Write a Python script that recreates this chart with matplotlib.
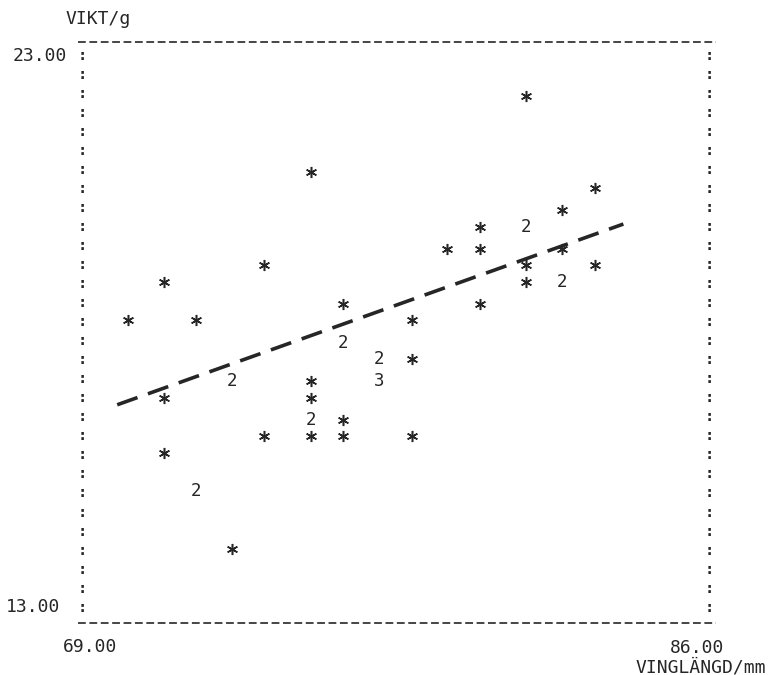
import numpy as np
import matplotlib
matplotlib.use("Agg")
import matplotlib.pyplot as plt
import matplotlib.transforms as mtransforms

plt.rcParams['lines.scale_dashes'] = False

# ---- data (wing length mm, weight g, count of coinciding birds)
wing = [81.1, 75.1, 83.0, 82.1, 79.8, 81.1, 78.9, 79.8, 82.1, 73.8, 71.0,
        81.1, 83.0, 81.1, 82.1, 76.0, 79.8, 70.0, 71.9, 77.9, 76.0, 77.0,
        77.9, 72.9, 75.1, 77.0, 71.0, 75.1, 75.1, 76.0, 73.8, 75.1, 76.0,
        77.9, 71.0, 71.9, 72.9]
weight = [22.27, 20.9, 20.6, 20.2, 19.9, 19.9, 19.5, 19.5, 19.5, 19.2, 18.9,
          19.2, 19.2, 18.9, 18.9, 18.5, 18.5, 18.2, 18.2, 18.2, 17.8, 17.5,
          17.5, 17.1, 17.1, 17.1, 16.8, 16.8, 16.4, 16.4, 16.1, 16.1, 16.1,
          16.1, 15.8, 15.1, 14.05]
count = [1, 1, 1, 1, 1, 2, 1, 1, 1, 1, 1, 1, 1, 1, 2, 1, 1, 1, 1, 1, 2, 2, 1,
         2, 1, 3, 1, 1, 2, 1, 1, 1, 1, 1, 1, 2, 1]

# regression line as drawn
fit_x = [69.7, 83.8]
fit_y = [16.67, 19.95]

x_min, x_max = 69.0, 86.0
y_min, y_max = 13.0, 23.0
n_rows = 30

x_labels = ["69.00", "86.00"]
y_labels = ["23.00", "13.00"]
x_title = "VINGLÄNGD/mm"
y_title = "VIKT/g"

ink = "#262626"
mono = "DejaVu Sans Mono"
fs = 13

fig = plt.figure(figsize=(7.72, 6.75), dpi=100)
ax = fig.add_axes([0, 0, 1, 1])
ax.set_xlim(66.435, 87.94)
ax.set_ylim(11.766, 24.016)
ax.axis('off')

# frame: dashed top/bottom rows, colon columns left/right
bx0, bx1 = 68.72, 86.18
ax.plot([68.6, 86.38], [23.255, 23.255], color=ink, lw=1.2,
        dashes=(5.6, 2.6))
ax.plot([68.6, 86.38], [12.71, 12.71], color=ink, lw=1.2,
        dashes=(5.6, 2.6))
rows = np.linspace(y_max, y_min, n_rows)
for yy in rows:
    for xx in (bx0, bx1):
        ax.text(xx, yy, ":", family=mono, fontsize=11, fontweight='bold',
                color=ink, ha='center', va='center')

# regression line
ax.plot(fit_x, fit_y, color=ink, lw=2.6, dashes=(15.5, 8),
        solid_capstyle='butt', dash_capstyle='butt')

# points: single -> asterisk, multiple -> digit
for xv, yv, c in zip(wing, weight, count):
    if c == 1:
        ax.plot(xv, yv, marker=(6, 2, 0), ms=8, mew=1.1, color=ink,
                linestyle='none')
    else:
        ax.text(xv, yv, str(c), family=mono, fontsize=12.5, color=ink,
                ha='center', va='center')

# labels
T = ax.transAxes
ax.text(66 / 772, 1 - 24 / 675, y_title, transform=T,
        family=mono, fontsize=fs, color=ink, ha='left', va='baseline')
tr_y = mtransforms.blended_transform_factory(ax.transAxes, ax.transData)
ax.text(67 / 772, y_max, y_labels[0], transform=tr_y, family=mono,
        fontsize=fs, color=ink, ha='right', va='center')
ax.text(60 / 772, y_min, y_labels[1], transform=tr_y, family=mono,
        fontsize=fs, color=ink, ha='right', va='center')
ax.text(63 / 772, 1 - 652 / 675, x_labels[0], transform=T,
        family=mono, fontsize=fs, color=ink, ha='left', va='baseline')
ax.text(724 / 772, 1 - 653 / 675, x_labels[1], transform=T,
        family=mono, fontsize=fs, color=ink, ha='right', va='baseline')
ax.text(766 / 772, 1 - 672 / 675, x_title, transform=T,
        family=mono, fontsize=fs, color=ink, ha='right', va='baseline')

fig.savefig("out.png", dpi=100, facecolor="white")
